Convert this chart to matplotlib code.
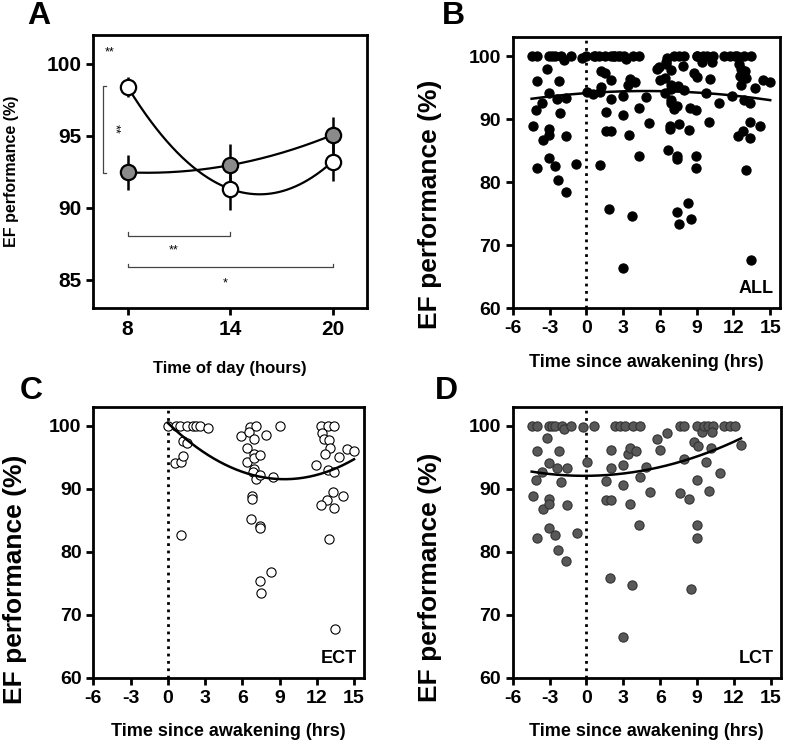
import numpy as np
import matplotlib
matplotlib.use("Agg")
import matplotlib.pyplot as plt

plt.rcParams['font.family'] = ['Liberation Sans', 'DejaVu Sans']
plt.rcParams['font.weight'] = 'bold'
plt.rcParams['axes.unicode_minus'] = False

# panel A: group means +/- SEM at three times of day
hours = [8, 14, 20]
ect_mean = [98.4, 91.3, 93.2]
ect_sem = [0.7, 1.5, 1.35]
lct_mean = [92.45, 92.95, 95.05]
lct_sem = [1.2, 1.5, 1.25]

# ECT individual scores (time since awakening, EF %)
ect_t = [0.0, 0.54, 0.67, 1.0, 1.08, 1.21, 1.21, 1.56, 1.56, 1.08, 2.0, 2.3, 2.56, 3.23,
         5.92, 6.6, 6.52, 6.39, 6.39, 6.92, 7.14, 6.92, 6.92, 7.46, 6.92, 6.87, 7.14, 7.4,
         7.87, 8.49, 9.02, 6.79, 6.79, 6.66, 7.4, 7.4, 8.29, 7.4, 7.54,
         12.31, 12.9, 13.4, 12.45, 12.6, 12.95, 13.05, 12.63, 14.4, 15.0, 13.79, 11.9, 12.9,
         13.38, 13.33, 14.14, 12.8, 12.37, 13.38, 13.0, 13.46]
ect_ef = [100, 94.05, 100, 100, 94.3, 95.1, 97.6, 97.3, 100, 82.7, 100, 100, 100, 99.6,
          98.3, 99.7, 99.0, 96.5, 94.2, 97.8, 100, 95.5, 94.8, 95.3, 93.1, 92.6, 91.6, 92.1,
          98.5, 91.8, 100, 88.9, 88.4, 85.1, 84.1, 83.7, 76.7, 75.3, 73.4,
          100, 100, 100, 98.8, 97.9, 97.7, 96.5, 95.5, 96.3, 95.9, 95.0, 93.7, 93.0,
          92.6, 89.5, 88.9, 88.2, 87.4, 87.0, 82.0, 67.7]

# LCT individual scores
lct_t = [-4.46, -4.0, -4.38, -4.11, -4.0, -4.0, -3.6, -3.57, -3.24, -3.03, -2.8,
         -3.03, -3.03, -3.03, -3.03, -2.57, -2.57, -2.38, -2.22, -2.11, -2.3, -2.03, -1.84,
         -1.62, -1.62, -1.68, -1.22, -0.81, -0.32, 0.05, 0.59,
         1.62, 1.57, 2.03, 2.03, 2.03, 1.89, 2.3, 2.76, 3.1, 2.97, 2.97, 2.97, 3.38, 3.51,
         3.57, 3.78, 4.32, 3.73, 4.0, 4.32, 4.27, 4.85, 5.14, 5.73, 6.0, 6.54,
         7.57, 7.97, 7.57, 7.97, 8.38, 8.51, 8.77, 9.04, 9.0, 8.97, 8.97, 8.97, 9.4,
         9.55, 9.85, 9.73, 10.0, 10.12, 10.3, 10.24, 10.86, 11.2, 11.7, 12.1, 12.57]
lct_ef = [100, 100, 88.9, 91.4, 96.0, 82.2, 92.6, 86.7, 98.0, 100, 100,
          94.1, 88.4, 87.5, 83.8, 100, 82.6, 93.2, 96.0, 91.0, 80.3, 100, 99.4,
          93.3, 87.4, 78.5, 100, 82.9, 99.7, 94.3, 100,
          91.2, 88.2, 88.2, 96.2, 93.2, 75.8, 100, 100, 100, 93.7, 90.6, 66.4, 95.5, 87.5,
          96.4, 100, 100, 74.7, 95.9, 91.8, 84.2, 93.5, 89.4, 97.9, 96.2, 98.8,
          100, 100, 89.3, 94.7, 88.3, 74.1, 97.4, 96.7, 100, 91.4, 84.2, 82.2, 99.0,
          100, 100, 94.2, 89.6, 96.4, 100, 99.0, 92.5, 100, 100, 100, 96.9]

all_t = ect_t + lct_t
all_ef = ect_ef + lct_ef

# second-order fits as drawn in the figure (a*x^2 + b*x + c)
fit_all = [-0.01412, 0.13747, 94.14]
fit_ect = [0.101, -1.899, 100.42]
fit_lct = [0.0365, 0.0136, 92.03]


def style(ax, size):
    for s in ax.spines.values():
        s.set_linewidth(2)
    ax.tick_params(direction='out', length=5, width=2, labelsize=size)
    for lab in ax.get_xticklabels() + ax.get_yticklabels():
        lab.set_fontweight('bold')


def scatter_panel(ax, t, y, coef, face, edge, tag, ylab_x, ylab_y):
    ax.axvline(0, color='black', ls=':', lw=2, zorder=1)
    ax.scatter(t, y, s=44, c=face, edgecolors=edge, linewidths=0.8, zorder=3)
    xs = np.linspace(min(t), max(t), 200)
    ax.plot(xs, np.polyval(coef, xs), color='black', lw=1.8, zorder=4)
    ax.set_xlim(-6, 15.8)
    ax.set_ylim(60, 103)
    ax.set_xticks(range(-6, 16, 3))
    ax.set_yticks(range(60, 101, 10))
    ax.set_xlabel('Time since awakening (hrs)', fontsize=13, fontweight='bold', labelpad=12)
    ax.set_ylabel('EF performance (%)', fontsize=19, fontweight='bold')
    ax.yaxis.set_label_coords(ylab_x, ylab_y)
    ax.text(0.975, 0.04, tag, transform=ax.transAxes, ha='right', va='bottom',
            fontsize=13, fontweight='bold')
    style(ax, 14)


fig = plt.figure(figsize=(7.87, 7.44), dpi=100)
axA = fig.add_axes([0.1186, 0.5856, 0.3474, 0.3674])
axB = fig.add_axes([0.6515, 0.5856, 0.3396, 0.3643])
axC = fig.add_axes([0.1186, 0.0891, 0.3439, 0.3643])
axD = fig.add_axes([0.6515, 0.0891, 0.3405, 0.3643])

# panel A
xs = np.linspace(8, 20, 200)
for mean, sem, face in [(lct_mean, lct_sem, '#8a8a8a'), (ect_mean, ect_sem, 'white')]:
    coef = np.polyfit(hours, mean, 2)
    axA.plot(xs, np.polyval(coef, xs), color='black', lw=1.6, zorder=2)
    axA.errorbar(hours, mean, yerr=sem, fmt='o', ms=11, mfc=face, mec='black', mew=1.6,
                 ecolor='black', elinewidth=1.8, capsize=0, zorder=3)

br = '#444444'
axA.plot([6.75, 6.57, 6.57, 6.75], [98.45, 98.45, 92.4, 92.4], color=br, lw=0.9)
axA.plot([8, 8, 14, 14], [88.3, 88.03, 88.03, 88.3], color=br, lw=0.9)
axA.plot([8, 8, 20, 20], [86.1, 85.84, 85.84, 86.1], color=br, lw=0.9)
axA.text(6.95, 100.8, '**', ha='center', va='center', fontsize=9, fontweight='normal')
axA.text(7.2, 95.45, '**', ha='center', va='center', fontsize=9, fontweight='normal',
         rotation=-90)
axA.text(10.67, 87.0, '**', ha='center', va='center', fontsize=9, fontweight='normal')
axA.text(13.7, 84.7, '*', ha='center', va='center', fontsize=9, fontweight='normal')
axA.set_xlim(6, 22)
axA.set_ylim(83, 102)
axA.set_xticks(hours)
axA.set_yticks([85, 90, 95, 100])
axA.set_xlabel('Time of day (hours)', fontsize=12, fontweight='bold', labelpad=16)
axA.set_ylabel('EF performance (%)', fontsize=11.5, fontweight='bold', labelpad=20)
style(axA, 15)

scatter_panel(axB, all_t, all_ef, fit_all, 'black', 'black', 'ALL', -0.265, 0.385)
scatter_panel(axC, ect_t, ect_ef, fit_ect, 'white', 'black', 'ECT', -0.245, 0.364)
scatter_panel(axD, lct_t, lct_ef, fit_lct, '#585858', '#333333', 'LCT', -0.265, 0.37)

for lbl, x, y in [('A', 0.035, 0.998), ('B', 0.562, 0.998), ('C', 0.025, 0.494), ('D', 0.553, 0.494)]:
    fig.text(x, y, lbl, fontsize=23, fontweight='bold', va='top', ha='left')

fig.savefig('out.png', dpi=100)
